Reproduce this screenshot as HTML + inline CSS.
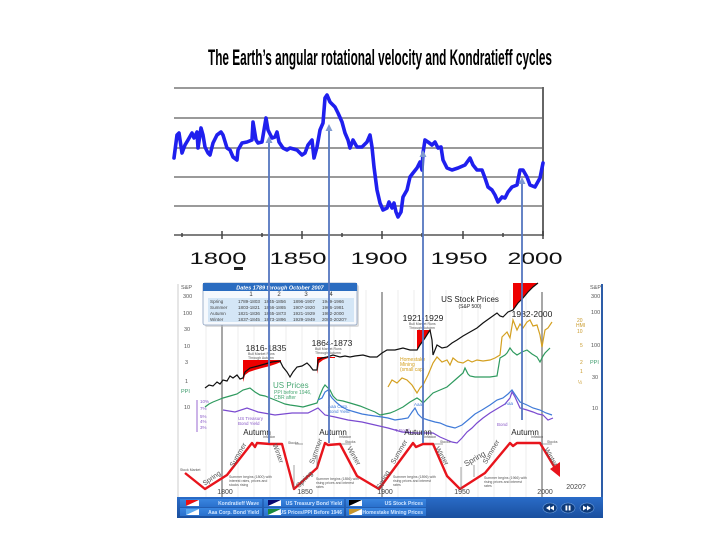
<!DOCTYPE html>
<html><head><meta charset="utf-8">
<style>
html,body{margin:0;padding:0;background:#fff;}
svg{display:block;}
text{font-family:"Liberation Sans",sans-serif;}
</style></head>
<body>
<svg width="720" height="540" viewBox="0 0 720 540" xmlns="http://www.w3.org/2000/svg">
<rect width="720" height="540" fill="#fff"/>
<!-- Title -->
<text x="208" y="65" font-size="22" font-weight="bold" textLength="344" lengthAdjust="spacingAndGlyphs" fill="#000">The Earth’s angular rotational velocity and Kondratieff cycles</text>

<!-- Top chart grid -->
<g stroke="#9a9a9a" stroke-width="2">
<line x1="174" y1="88" x2="543" y2="88"/>
<line x1="174" y1="118" x2="543" y2="118"/>
<line x1="174" y1="148" x2="543" y2="148"/>
<line x1="174" y1="177" x2="543" y2="177"/>
<line x1="174" y1="206" x2="543" y2="206"/>
</g>
<line x1="543" y1="87" x2="543" y2="236" stroke="#666" stroke-width="2"/>
<line x1="174" y1="235" x2="543" y2="235" stroke="#555" stroke-width="1.5"/>
<g stroke="#444" stroke-width="1.5">
<line x1="222" y1="231" x2="222" y2="239"/><line x1="302" y1="231" x2="302" y2="239"/><line x1="382" y1="231" x2="382" y2="239"/><line x1="463" y1="231" x2="463" y2="239"/><line x1="543" y1="231" x2="543" y2="239"/>
<line x1="182" y1="233" x2="182" y2="237"/><line x1="262" y1="233" x2="262" y2="237"/><line x1="342" y1="233" x2="342" y2="237"/><line x1="422" y1="233" x2="422" y2="237"/><line x1="503" y1="233" x2="503" y2="237"/>
</g>
<g font-size="17" fill="#111" text-anchor="middle">
<text x="218" y="264" textLength="57" lengthAdjust="spacingAndGlyphs">1800</text>
<text x="298" y="264" textLength="57" lengthAdjust="spacingAndGlyphs">1850</text>
<text x="379" y="264" textLength="57" lengthAdjust="spacingAndGlyphs">1900</text>
<text x="459" y="264" textLength="57" lengthAdjust="spacingAndGlyphs">1950</text>
<text x="535" y="264" textLength="55" lengthAdjust="spacingAndGlyphs">2000</text>
</g>
<rect x="234" y="267" width="9" height="3" fill="#222"/>

<!-- Rotation velocity line -->
<polyline fill="none" stroke="#1f1fee" stroke-width="3.6" stroke-linejoin="round" stroke-linecap="round" points="174,158 177,135 179,133 182,153 185,145 188,140 192,133 194,138 197,132 198,148 201,128 203,135 205,147 208,153 210,155 213,143 217,135 221,132 223,135 227,148 230,150 233,157 237,160 238,150 242,143 247,142 252,140 253,122 256,140 258,143 262,142 266,118 268,130 272,138 275,137 277,132 279,142 283,148 287,150 290,148 297,150 302,155 305,153 308,145 312,140 314,158 317,147 320,130 323,123 325,98 327,95 330,102 335,107 338,113 342,122 345,133 348,140 350,148 353,140 357,147 362,147 367,142 370,135 372,147 374,167 377,190 380,203 383,210 387,208 389,202 392,208 394,203 396,212 398,217 401,212 403,197 407,190 410,177 413,173 417,168 420,162 422,170 423,153 425,140 428,142 432,145 435,142 438,148 441,147 443,160 447,168 452,170 458,168 465,165 470,158 473,165 477,170 482,170 485,178 488,187 492,190 495,195 498,202 502,197 505,198 508,192 512,187 517,185 520,170 523,170 527,177 530,185 535,187 540,178 543,163"/>

<!-- Lower panel -->
<line x1="178" y1="284" x2="178" y2="498" stroke="#ccc" stroke-width="1"/>
<line x1="602" y1="284" x2="602" y2="518" stroke="#2d5da8" stroke-width="2"/>
<g stroke="#eeeeee" stroke-width="1">
<line x1="238" y1="290" x2="238" y2="497"/><line x1="254" y1="290" x2="254" y2="497"/><line x1="270" y1="290" x2="270" y2="497"/><line x1="286" y1="290" x2="286" y2="497"/><line x1="302" y1="290" x2="302" y2="497"/><line x1="318" y1="290" x2="318" y2="497"/><line x1="334" y1="290" x2="334" y2="497"/><line x1="350" y1="290" x2="350" y2="497"/><line x1="366" y1="290" x2="366" y2="497"/><line x1="398" y1="290" x2="398" y2="497"/><line x1="414" y1="290" x2="414" y2="497"/><line x1="430" y1="290" x2="430" y2="497"/><line x1="446" y1="290" x2="446" y2="497"/><line x1="462" y1="290" x2="462" y2="497"/><line x1="478" y1="290" x2="478" y2="497"/><line x1="494" y1="290" x2="494" y2="497"/><line x1="510" y1="290" x2="510" y2="497"/><line x1="526" y1="290" x2="526" y2="497"/><line x1="206" y1="290" x2="206" y2="497"/>
</g>
<g stroke="#8a8a8a" stroke-width="1.5">
<line x1="222" y1="292" x2="222" y2="498"/>
<line x1="382" y1="292" x2="382" y2="498"/>
<line x1="542" y1="292" x2="542" y2="498"/>
</g>

<!-- left axis labels -->
<g font-size="5.5" fill="#555">
<text x="181" y="289">S&amp;P</text>
<text x="183" y="298">300</text>
<text x="183" y="315">100</text>
<text x="184" y="331">30</text>
<text x="184" y="348">10</text>
<text x="185" y="364">3</text>
<text x="185" y="383">1</text>
<text x="181" y="393" fill="#3a9a6a">PPI</text>
<text x="184" y="409">10</text>
</g>
<line x1="197" y1="400" x2="197" y2="432" stroke="#9a6ad0" stroke-width="1"/>
<g font-size="4.5" fill="#8a5ac8">
<text x="200" y="403">10%</text><text x="200" y="410">7%</text><text x="200" y="418">5%</text><text x="200" y="423">4%</text><text x="200" y="429">3%</text>
</g>
<!-- right axis labels -->
<g font-size="5.5" fill="#555">
<text x="590" y="289">S&amp;P</text>
<text x="591" y="298">300</text>
<text x="591" y="314">100</text>
<text x="591" y="347">100</text>
<text x="590" y="364" fill="#3a9a6a">PPI</text>
<text x="592" y="379">30</text>
<text x="592" y="410">10</text>
</g>
<g font-size="5" fill="#c89a2a">
<text x="577" y="322">20</text><text x="576" y="327">HMI</text><text x="577" y="333">10</text>
<text x="580" y="347">5</text><text x="580" y="364">2</text><text x="580" y="373">1</text><text x="578" y="384">½</text>
</g>

<!-- Info box -->
<rect x="205" y="285" width="154" height="42" fill="#bbb" opacity="0.5" rx="2"/>
<rect x="203" y="283" width="154" height="42" fill="#f6f9fd" stroke="#8aa0c0" stroke-width="0.8" rx="2"/>
<rect x="203" y="283" width="154" height="8" fill="#2a6cc0"/>
<text x="280" y="289.5" font-size="5.5" font-weight="bold" font-style="italic" fill="#fff" text-anchor="middle">Dates 1789 through October 2007</text>
<rect x="208" y="298" width="146" height="24" fill="#d4e6f6"/>
<g font-size="6" fill="#333" text-anchor="middle">
<text x="251" y="296">1</text><text x="279" y="296">2</text><text x="306" y="296">3</text><text x="331" y="296">4</text>
</g>
<g font-size="4.6" fill="#444">
<text x="210" y="303">Spring</text><text x="210" y="309">Summer</text><text x="210" y="315">Autumn</text><text x="210" y="321">Winter</text>
<text x="238" y="303">1789-1803</text><text x="264" y="303">1845-1856</text><text x="293" y="303">1896-1907</text><text x="322" y="303">1949-1966</text>
<text x="238" y="309">1803-1821</text><text x="264" y="309">1856-1865</text><text x="293" y="309">1907-1920</text><text x="322" y="309">1966-1981</text>
<text x="238" y="315">1821-1836</text><text x="264" y="315">1865-1873</text><text x="293" y="315">1921-1929</text><text x="322" y="315">1982-2000</text>
<text x="238" y="321">1837-1845</text><text x="264" y="321">1873-1896</text><text x="293" y="321">1929-1949</text><text x="322" y="321">2000-2020?</text>
</g>

<!-- red bull market fills -->
<g fill="#ee0000">
<polygon points="243,360 281,360 281,362 276,364 270,366 262,368 255,370 249,372 245,375 243,382"/>
<polygon points="317,357 335,357 335,358 328,358 323,360 319,363 317,374"/>
<polygon points="417,330 431,330 425,338 420,345 417,350"/>
<polygon points="513,283 538,283 533,287 528,292 523,298 518,303 513,310"/>
</g>

<!-- Green PPI line -->
<polyline fill="none" stroke="#2e9a5e" stroke-width="1.2" points="205,407 209,404 213,402 218,400 223,398 230,396 237,394 243,390 250,388 255,392 260,395 265,396 270,398 275,400 280,402 285,404 290,405 297,406 303,407 310,405 317,403 320,395 323,388 325,385 328,388 330,390 333,396 337,400 343,401 350,403 360,406 370,410 375,412 380,415 385,414 390,413 395,411 403,407 410,402 417,398 420,400 423,403 428,398 433,393 440,390 447,387 455,380 463,373 465,368 468,374 470,376 475,377 480,377 490,377 497,376 500,358 505,355 507,353 510,348 513,352 517,355 522,352 527,350 532,354 537,357 540,362 543,356 545,353 548,350 550,348"/>
<!-- Gold line -->
<polyline fill="none" stroke="#d4a020" stroke-width="1.2" points="388,387 392,380 397,383 402,378 407,380 412,385 417,393 420,388 423,385 428,375 433,363 437,357 442,362 447,360 450,365 453,358 458,362 463,363 468,360 472,362 477,360 483,361 490,360 495,358 500,355 502,337 507,332 510,338 513,320 517,330 520,324 523,328 527,322 530,320 533,326 537,325 540,335 542,347 545,330 548,328 552,322"/>
<!-- Blue (Aaa) -->
<polyline fill="none" stroke="#3f7ad8" stroke-width="1.2" points="318,400 322,398 325,392 328,390 330,395 332,398 337,403 342,407 348,410 355,412 362,414 368,415 375,416 382,417 388,418 395,420 402,419 408,418 412,412 415,408 418,414 422,418 428,420 435,422 440,423 447,426 455,428 462,425 468,420 475,414 482,410 490,405 497,400 503,398 508,394 512,390 516,396 520,402 527,405 533,408 540,410 546,413 552,415"/>
<!-- Purple (Treasury) -->
<polyline fill="none" stroke="#7a4ad0" stroke-width="1.2" points="223,410 235,412 247,408 258,412 275,415 292,413 308,413 318,408 322,412 325,415 335,417 348,420 362,422 375,425 388,428 402,432 415,433 428,433 433,433 440,437 447,440 452,442 457,443 462,438 467,432 472,428 477,423 483,418 490,413 495,410 500,407 505,404 510,398 512,392 515,397 520,408 527,410 533,412 538,414 543,415 548,420 553,418"/>
<!-- Black stock line -->
<polyline fill="none" stroke="#111" stroke-width="1.2" points="205,388 209,385 213,386 217,382 220,384 223,380 227,381 230,376 233,378 237,375 240,379 243,378 245,372 250,368 258,366 265,364 272,362 280,361 283,367 287,372 290,377 293,372 297,367 302,366 307,363 310,366 313,370 317,370 318,360 322,358 327,357 333,355 340,357 345,356 350,357 355,356 363,355 370,357 377,357 382,353 387,350 395,350 403,348 410,350 417,350 420,345 425,338 430,330 432,340 433,355 435,350 437,345 442,348 447,347 452,343 457,340 463,336 470,332 477,328 483,323 490,318 497,313 500,316 503,317 508,312 513,310 518,303 523,298 528,292 533,287 538,283"/>

<!-- lower chart labels -->
<g font-size="8.5" fill="#222" text-anchor="middle">
<text x="266" y="351">1816-1835</text>
<text x="332" y="346">1864-1873</text>
<text x="423" y="321">1921-1929</text>
<text x="532" y="317">1982-2000</text>
<text x="470" y="302" font-size="8">US Stock Prices</text>
<text x="470" y="308" font-size="5">(S&amp;P 500)</text>
</g>
<g font-size="3.5" fill="#555">
<text x="248" y="355">Bull Market Runs</text><text x="248" y="359">Through Autumn</text>
<text x="315" y="350">Bull Market Runs</text><text x="315" y="354">Through Autumn</text>
<text x="409" y="325">Bull Market Runs</text><text x="409" y="329">Through Autumn</text>
</g>
<g fill="#4aa874">
<text x="273" y="388" font-size="8">US Prices</text>
<text x="274" y="394" font-size="5">PPI before 1946,</text>
<text x="274" y="399" font-size="5">CBR after</text>
</g>
<g font-size="5" fill="#d4a020"><text x="400" y="361">Homestake</text><text x="400" y="366">Mining</text><text x="400" y="371">(small cap)</text></g>
<g font-size="4.5" fill="#8a5ac8"><text x="238" y="420">US Treasury</text><text x="238" y="425">Bond Yield</text><text x="395" y="432">T-Bond</text><text x="497" y="426">Bond</text></g>
<g font-size="4.5" fill="#3f7ad8"><text x="328" y="408">Aaa Corp.</text><text x="328" y="413">Bond Yield</text><text x="414" y="406">Aaa</text><text x="505" y="405">Aaa</text></g>

<!-- Kondratieff red wave -->
<polyline fill="none" stroke="#e8141c" stroke-width="2.4" stroke-linejoin="round" points="185,473 205,489 227,475 252,443 255,447 257,443 270,444 282,444 294,489 317,468 325,443 328,445 340,444 357,476 379,489 413,443 416,447 423,444 433,444 447,476 460,489 485,473 510,443 513,446 517,443 540,443 555,468"/>
<polygon points="560,477 550,469 560,462" fill="#e8141c"/>
<g font-size="8" fill="#222" text-anchor="middle">
<text x="257" y="435">Autumn</text><text x="333" y="435">Autumn</text><text x="418" y="435">Autumn</text><text x="525" y="435">Autumn</text>
</g>
<g font-size="7" fill="#555" text-anchor="middle">
<text transform="translate(213,480) rotate(-35)">Spring</text>
<text transform="translate(240,456) rotate(-60)">Summer</text>
<text transform="translate(276,454) rotate(70)">Winter</text>
<text transform="translate(306,481) rotate(-45)">Spring</text>
<text transform="translate(318,452) rotate(-70)">Summer</text>
<text transform="translate(352,457) rotate(60)">Winter</text>
<text transform="translate(385,481) rotate(-60)">Spring</text>
<text transform="translate(401,453) rotate(-60)">Summer</text>
<text transform="translate(440,457) rotate(60)">Winter</text>
<text transform="translate(476,461) rotate(-30)" font-size="8">Spring</text>
<text transform="translate(493,453) rotate(-60)">Summer</text>
<text transform="translate(549,458) rotate(60)">Winter</text>
</g>
<g font-size="3.5" fill="#555">
<text x="229" y="478">Summer begins (1800) with</text><text x="229" y="482">interest rates, prices and</text><text x="229" y="486">stocks rising</text>
<text x="316" y="480">Summer begins (1856) with</text><text x="316" y="484">rising prices and interest</text><text x="316" y="488">rates</text>
<text x="393" y="478">Summer begins (1896) with</text><text x="393" y="482">rising prices and interest</text><text x="393" y="486">rates</text>
<text x="484" y="479">Summer begins (1966) with</text><text x="484" y="483">rising prices and interest</text><text x="484" y="487">rates</text>
<text x="180" y="471">Stock Market</text>
<text x="263" y="438">Inflation</text><text x="339" y="438">Inflation</text><text x="424" y="438">Inflation</text><text x="531" y="438">Inflation</text>
<text x="288" y="444">Stocks</text><text x="345" y="443">Stocks</text><text x="440" y="443">Stocks</text><text x="547" y="443">Stocks</text>
</g>
<g stroke="#666" stroke-width="0.6">
<line x1="295" y1="444" x2="303" y2="444"/><line x1="341" y1="444" x2="351" y2="444"/><line x1="434" y1="444" x2="443" y2="444"/><line x1="541" y1="444" x2="552" y2="444"/>
<line x1="294" y1="465" x2="294" y2="489"/><line x1="317" y1="455" x2="317" y2="468"/><line x1="461" y1="467" x2="461" y2="489"/><line x1="474" y1="465" x2="474" y2="477"/>
</g>
<g font-size="7" fill="#444" text-anchor="middle">
<text x="225" y="494">1800</text><text x="305" y="494">1850</text><text x="385" y="494">1900</text><text x="462" y="494">1950</text><text x="545" y="494">2000</text>
<text x="576" y="489">2020?</text>
</g>

<!-- Arrow lines -->
<g stroke="#5577c0" stroke-width="1.8">
<line x1="269" y1="141" x2="269" y2="443"/>
<line x1="329" y1="129" x2="329" y2="443"/>
<line x1="423" y1="155" x2="423" y2="443"/>
<line x1="522" y1="182" x2="522" y2="420"/>
</g>
<g fill="#7f9ad0">
<polygon points="269,136 265.5,143 272.5,143"/>
<polygon points="329,124 325.5,131 332.5,131"/>
<polygon points="423,150 419.5,157 426.5,157"/>
<polygon points="522,177 518.5,184 525.5,184"/>
</g>

<!-- Legend bar -->
<defs>
<linearGradient id="bar" x1="0" y1="0" x2="0" y2="1"><stop offset="0" stop-color="#2a6cc8"/><stop offset="1" stop-color="#1a4f9e"/></linearGradient>
<linearGradient id="cell" x1="0" y1="0" x2="0" y2="1"><stop offset="0" stop-color="#3a86e0"/><stop offset="1" stop-color="#2a70cc"/></linearGradient>
</defs>
<rect x="177" y="497" width="426" height="21" fill="url(#bar)"/>
<g fill="url(#cell)">
<rect x="180" y="499" width="82" height="8"/><rect x="264" y="499" width="80" height="8"/><rect x="346" y="499" width="80" height="8"/>
<rect x="180" y="508" width="82" height="8"/><rect x="264" y="508" width="80" height="8"/><rect x="346" y="508" width="80" height="8"/>
</g>
<polygon points="186,500 199,500 186,506" fill="#ee1010"/><polygon points="199,500 199,506 186,506" fill="#fff"/>
<polygon points="268,500 281,500 268,506" fill="#0a0a70"/><polygon points="281,500 281,506 268,506" fill="#fff"/>
<polygon points="349,500 362,500 349,506" fill="#000"/><polygon points="362,500 362,506 349,506" fill="#fff"/>
<polygon points="186,509 199,509 186,515" fill="#5aa8ee"/><polygon points="199,509 199,515 186,515" fill="#fff"/>
<polygon points="268,509 281,509 268,515" fill="#1a8a3a"/><polygon points="281,509 281,515 268,515" fill="#fff"/>
<polygon points="349,509 362,509 349,515" fill="#c8962a"/><polygon points="362,509 362,515 349,515" fill="#fff"/>
<g font-size="5" font-weight="bold" fill="#cfe4ff" text-anchor="end">
<text x="259" y="505">Kondratieff Wave</text>
<text x="342" y="505">US Treasury Bond Yield</text>
<text x="423" y="505">US Stock Prices</text>
<text x="259" y="514">Aaa Corp. Bond Yield</text>
<text x="342" y="514">US Prices/PPI Before 1946</text>
<text x="423" y="514">Homestake Mining Prices</text>
</g>
<g>
<ellipse cx="550" cy="508" rx="7" ry="5" fill="#0d3a7a" stroke="#6fa0e0" stroke-width="0.6"/>
<ellipse cx="568" cy="508" rx="7" ry="5" fill="#0d3a7a" stroke="#6fa0e0" stroke-width="0.6"/>
<ellipse cx="587" cy="508" rx="7" ry="5" fill="#0d3a7a" stroke="#6fa0e0" stroke-width="0.6"/>
<polygon points="546,508 550,505.5 550,510.5" fill="#fff"/><polygon points="550,508 554,505.5 554,510.5" fill="#fff"/>
<rect x="565.5" y="505.5" width="1.8" height="5" fill="#fff"/><rect x="568.7" y="505.5" width="1.8" height="5" fill="#fff"/>
<polygon points="591,508 587,505.5 587,510.5" fill="#fff"/><polygon points="587,508 583,505.5 583,510.5" fill="#fff"/>
</g>
</svg>
</body></html>
